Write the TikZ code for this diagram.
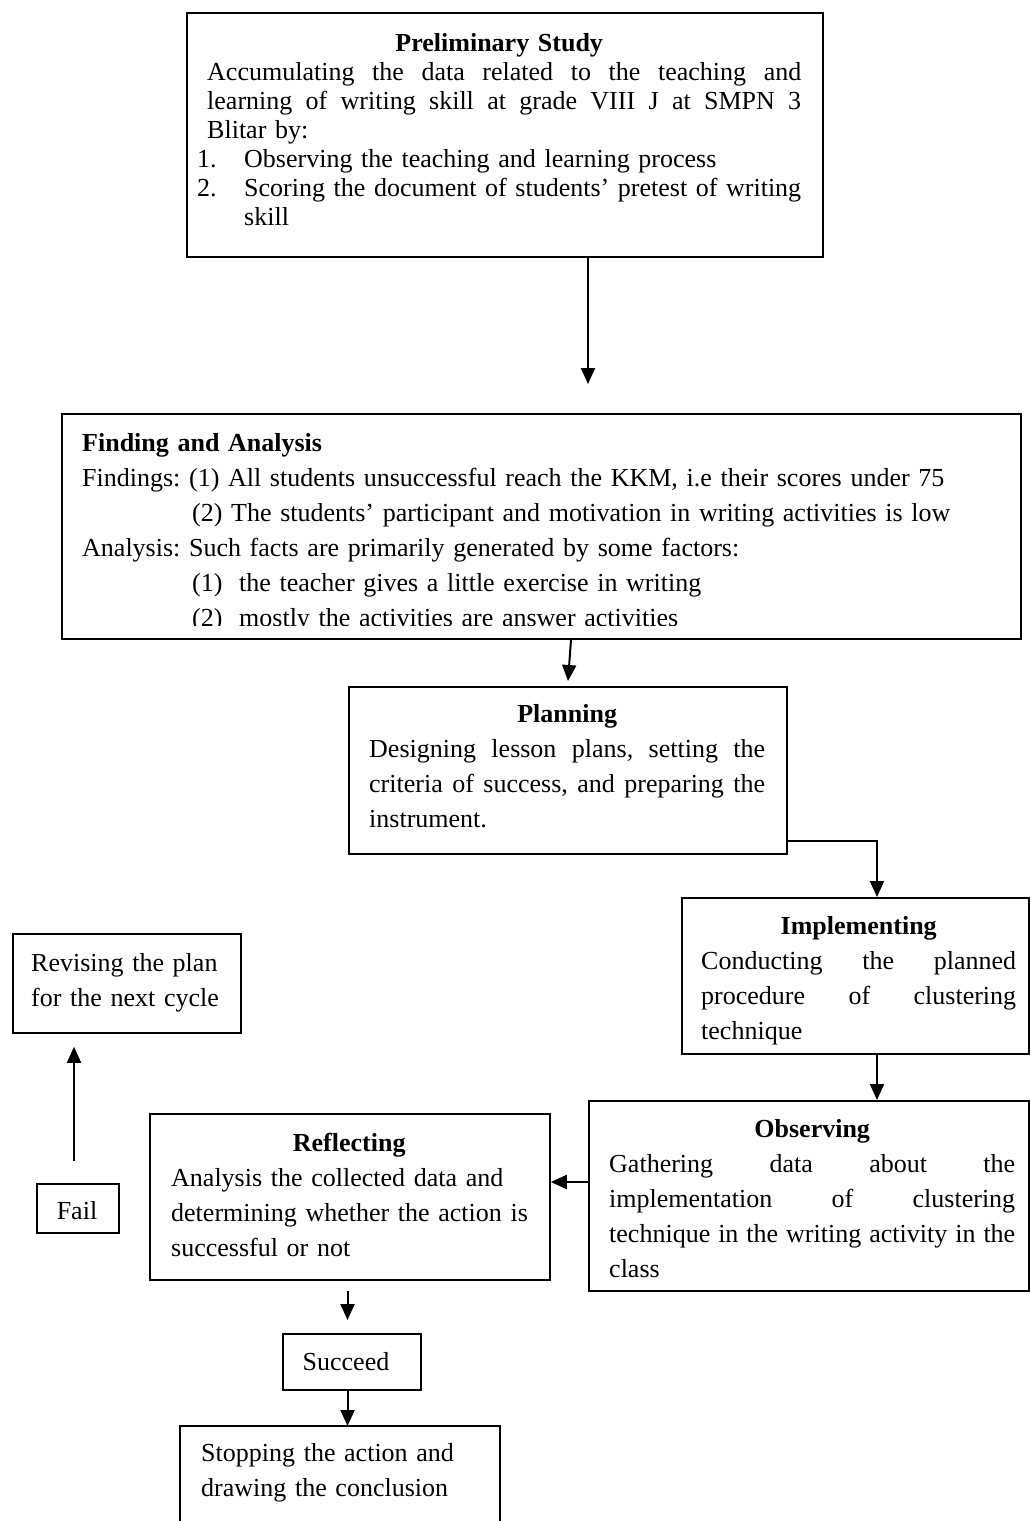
\documentclass[tikz,border=0pt]{standalone}
\usepackage{fontspec}
\setmainfont{Liberation Serif}
\usetikzlibrary{arrows.meta}
\hyphenpenalty=10000
\exhyphenpenalty=10000
\tolerance=9999
\hbadness=10000
\hfuzz=50pt
\newcommand\myjust[2]{\hbox to #1{\spaceskip=0.25em plus 1fil\relax #2}\par}
\begin{document}
\begin{tikzpicture}[x=1pt,y=-1pt,
  box/.style={draw=black,line width=1.8pt,inner sep=0pt,rectangle,anchor=north west},
  txt/.style={inner sep=0pt,anchor=base west,font=\fontsize{26}{35}\selectfont\frenchspacing},
  arr/.style={line width=2pt,-{Triangle[length=16pt,width=14pt]}}]
\useasboundingbox (0,0) rectangle (1029,1521);

% boxes
\node[box,minimum width=636pt,minimum height=244pt] (pre) at (186,12) {};
\node[box,minimum width=959pt,minimum height=225pt] (fa) at (61,413) {};
\node[box,minimum width=438pt,minimum height=167pt] (pl) at (348,686) {};
\node[box,minimum width=347pt,minimum height=156pt] (impl) at (681,897) {};
\node[box,minimum width=440pt,minimum height=190pt] (obs) at (588,1100) {};
\node[box,minimum width=400pt,minimum height=166pt] (refl) at (149,1113) {};
\node[box,minimum width=228pt,minimum height=99pt] (rev) at (12,933) {};
\node[box,minimum width=82pt,minimum height=49pt] (fail) at (36,1183) {};
\node[box,minimum width=138pt,minimum height=56pt] (suc) at (282,1333) {};
\node[box,draw=none,minimum width=318pt,minimum height=95pt] (stop) at (180,1426) {};
\draw[line width=1.8pt] (stop.south west) -- (stop.north west) -- (stop.north east) -- (stop.south east);

% texts
\node[txt,text width=604pt,font=\fontsize{26}{29}\selectfont\frenchspacing] (preT) at (197,51) {%
{\centering\bfseries Preliminary Study\par}
\hbox{\hspace*{10pt}\myjust{594pt}{Accumulating the data related to the teaching and}}
\hbox{\hspace*{10pt}\myjust{594pt}{learning of writing skill at grade VIII J at SMPN 3}}
\hbox{\hspace*{10pt}Blitar by:}
\hbox{\makebox[47pt][l]{1.}Observing the teaching and learning process}
\hbox{\makebox[47pt][l]{2.}\myjust{557pt}{Scoring the document of students’ pretest of writing}}
\hbox{\hspace*{47pt}skill}};

\begin{scope}
\clip (61,413) rectangle (1020,625);
\node[txt,text width=935pt] (faT) at (82,451) {%
\mbox{\bfseries Finding and Analysis}\par
\mbox{Findings: (1) All students unsuccessful reach the KKM, i.e their scores under 75}\par
\hspace*{110pt}\mbox{(2) The students’ participant and motivation in writing activities is low}\par
\mbox{Analysis: Such facts are primarily generated by some factors:}\par
\hspace*{110pt}\makebox[47pt][l]{(1)}\mbox{the teacher gives a little exercise in writing}\par
\hspace*{110pt}\makebox[47pt][l]{(2)}\mbox{mostly the activities are answer activities}\par};
\end{scope}

\node[txt,text width=396pt] (plT) at (369,722) {%
{\centering\bfseries Planning\par}
\myjust{396pt}{Designing lesson plans, setting the}
\myjust{396pt}{criteria of success, and preparing the}
\mbox{instrument.}\par};

\node[txt,text width=315pt] (implT) at (701,934) {%
{\centering\bfseries Implementing\par}
\myjust{315pt}{Conducting the planned}
\myjust{315pt}{procedure of clustering}
\mbox{technique}\par};

\node[txt,text width=406pt] (obsT) at (609,1137) {%
{\centering\bfseries Observing\par}
\myjust{406pt}{Gathering data about the}
\myjust{406pt}{implementation of clustering}
\myjust{406pt}{technique in the writing activity in the}
\mbox{class}\par};

\node[txt,text width=356pt] (reflT) at (171,1151) {%
{\centering\bfseries Reflecting\par}
\mbox{Analysis the collected data and}\par
\mbox{determining whether the action is}\par
\mbox{successful or not}\par};

\node[txt,text width=205pt] (revT) at (31,971) {\mbox{Revising the plan}\par\mbox{for the next cycle}\par};
\node[txt,anchor=base] (failT) at (77,1219) {Fail};
\node[txt,anchor=base] (sucT) at (346,1370) {Succeed};
\node[txt,text width=290pt] (stopT) at (201,1461) {\mbox{Stopping the action and}\par\mbox{drawing the conclusion}\par};

% connectors
\coordinate (a1) at (588,384);
\draw[arr] (pre.south -| a1) -- (a1);
\coordinate (a2) at (568,681);
\coordinate (a2s) at (571,0);
\draw[arr] (fa.south -| a2s) -- (a2);
\coordinate (a3) at (877,0);
\draw[arr] ([yshift=14pt]pl.south east) -| (impl.north -| a3);
\draw[arr] (impl.south -| a3) -- (obs.north -| a3);
\coordinate (a5) at (0,1182);
\draw[arr] (obs.west |- a5) -- (refl.east |- a5);
\coordinate (a6) at (74,0);
\draw[arr] ([yshift=22pt]fail.north -| a6) -- ([yshift=-13pt]rev.south -| a6);
\coordinate (a7) at (347.5,0);
\draw[arr] ([yshift=-10pt]refl.south -| a7) -- ([yshift=13pt]suc.north -| a7);
\draw[arr] (suc.south -| a7) -- (stop.north -| a7);
\end{tikzpicture}
\end{document}
